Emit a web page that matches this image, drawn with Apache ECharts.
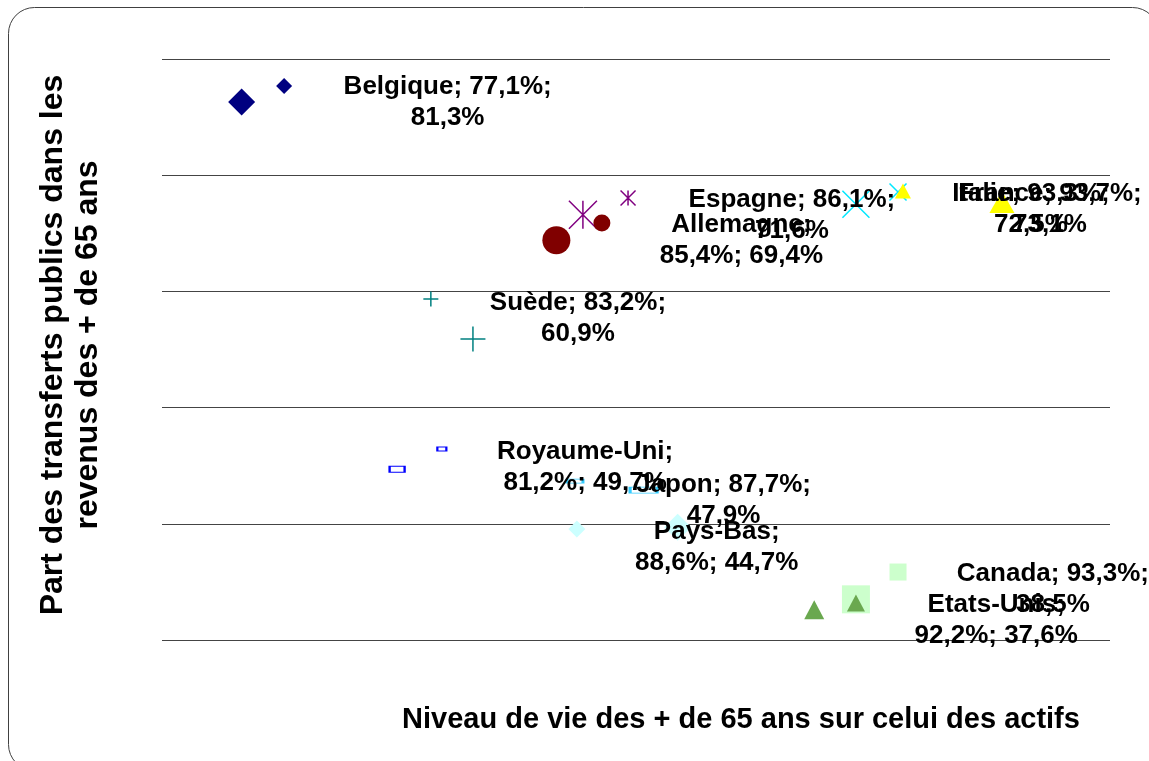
<!DOCTYPE html>
<html><head><meta charset="utf-8">
<script src="https://cdn.jsdelivr.net/npm/echarts@6/dist/echarts.min.js"></script>
<style>html,body{margin:0;padding:0;background:#fff}#chart{width:1149px;height:761px}</style>
</head><body><div id="chart"></div>
<script>
// ---- data ----
const countries = ['Belgique','Espagne','Allemagne','Italie','France','Suède','Royaume-Uni','Japon','Pays-Bas','Canada','Etats-Unis'];
// values shown in the data labels (niveau de vie %, part des transferts %)
const xValues = [77.1, 86.1, 85.4, 93.3, 93.7, 83.2, 81.2, 87.7, 88.6, 93.3, 92.2];
const yValues = [81.3, 71.6, 69.4, 72.5, 73.1, 60.9, 49.7, 47.9, 44.7, 38.5, 37.6];
// large markers as they appear in the picture
const markerX = [77.1, 86.1, 85.4, 93.3, 97.15, 83.2, 81.2, 87.7, 88.6, 93.3, 92.2];
const markerY = [81.3, 71.6, 69.4, 72.5, 72.7, 60.9, 49.7, 47.9, 44.7, 38.5, 37.6];
// small duplicate markers (label legend keys) as they appear in the picture
const keyX = [78.22, 87.29, 86.60, 94.41, 94.54, 82.09, 82.38, 85.89, 85.94, 94.41, 93.30];
const keyY = [82.68, 73.04, 70.89, 73.55, 73.64, 64.35, 51.44, 48.68, 44.55, 40.85, 38.18];
const xAxisRange = [75, 100];
const yAxisRange = [35, 85];
const yStep = 10;
const xTitle = 'Niveau de vie des + de 65 ans sur celui des actifs';
const yTitle = 'Part des transferts publics dans les\nrevenus des + de 65 ans';

// ---- styles ----
const ASTER = 'path://M0,0L20,20M20,0L0,20M10,0L10,20';
const XMARK = 'path://M0,0L20,20M20,0L0,20';
const PLUS = 'path://M10,0L10,20M0,10L20,10';
const symbols = ['diamond', ASTER, 'circle', XMARK, 'triangle', PLUS, 'rect', 'rect', 'diamond', 'rect', 'triangle'];
const colors = ['#000080','#800080','#800000','#00E8FF','#FFFF00','#008080','#0000FF','#33CCFF','#CCFFFF','#CCFFCC','#6AA84F'];
const strokeOnly = [false, true, false, true, false, true, true, true, false, false, false];
const bigSizes = [27, 28, 28, 27, [25,22], 25, [15,6], [27,6], 27, 28, [20,19]];
const smallSizes = [16, 15, 17, 17, [16,15], 15, [9,4], [16,4], 17, 17, [18,17]];
const breakAfterName = [false, false, true, false, false, false, true, false, true, false, true];
const labelOffsets = [[206,0],[209,1],[185,0],[175,5],[48,7],[105,-21],[188,-2],[80,10],[39,20],[197,-10],[182,11]];

const fmt = v => v.toFixed(1).replace('.', ',') + '%';
function labelText(i) {
  const n = countries[i], a = fmt(xValues[i]), b = fmt(yValues[i]);
  return breakAfterName[i] ? `${n};\n${a}; ${b}` : `${n}; ${a};\n${b}`;
}
function itemStyle(i) {
  if (strokeOnly[i]) {
    return { color: symbols[i] === 'rect' ? '#ffffff' : colors[i], borderColor: colors[i], borderWidth: 1.5, opacity: 1 };
  }
  return { color: colors[i], borderWidth: 0, opacity: 1 };
}
function makeData(xs, ys, sizes) {
  return countries.map((c, i) => ({
    name: c, value: [xs[i], ys[i]], symbol: symbols[i], symbolSize: sizes[i], itemStyle: itemStyle(i)
  }));
}

const chart = echarts.init(document.getElementById('chart'));
chart.setOption({
  backgroundColor: '#ffffff',
  animation: false,
  grid: { left: 162, right: 39, top: 59, bottom: 121 },
  xAxis: {
    type: 'value', min: xAxisRange[0], max: xAxisRange[1],
    axisLine: { show: false }, axisTick: { show: false }, axisLabel: { show: false }, splitLine: { show: false }
  },
  yAxis: {
    type: 'value', min: yAxisRange[0], max: yAxisRange[1], interval: yStep,
    axisLine: { show: false }, axisTick: { show: false }, axisLabel: { show: false },
    splitLine: { show: true, lineStyle: { color: '#444', width: 1 } }
  },
  graphic: [
    { type: 'rect', shape: { x: 8.5, y: 7.5, width: 1150, height: 763, r: 26 }, style: { fill: 'none', stroke: '#404040', lineWidth: 1 }, z: 0 },
    { type: 'text', x: 741, y: 720, style: { text: xTitle, font: 'bold 29px "Liberation Sans", Arial, sans-serif', fill: '#000', textAlign: 'center', textVerticalAlign: 'middle' } },
    { type: 'text', x: 71, y: 345, rotation: Math.PI / 2, style: { text: yTitle, font: 'bold 32px "Liberation Sans", Arial, sans-serif', lineHeight: 35, fill: '#000', textAlign: 'center', textVerticalAlign: 'middle' } }
  ],
  series: [
    { name: 'points', type: 'scatter', z: 2, data: makeData(markerX, markerY, bigSizes), itemStyle: { opacity: 1 }, emphasis: { disabled: true } },
    { name: 'keys', type: 'scatter', z: 3, data: makeData(keyX, keyY, smallSizes), itemStyle: { opacity: 1 }, emphasis: { disabled: true } },
    {
      name: 'labels', type: 'scatter', z: 5, symbolSize: 1, itemStyle: { color: 'rgba(0,0,0,0)', opacity: 1 },
      emphasis: { disabled: true },
      data: countries.map((c, i) => ({ name: c, value: [markerX[i], markerY[i]] })),
      label: {
        show: true, position: 'inside', color: '#000', opacity: 1,
        formatter: p => labelText(p.dataIndex),
        fontFamily: '"Liberation Sans", Arial, sans-serif', fontWeight: 'bold',
        fontSize: 26, lineHeight: 31, align: 'center', verticalAlign: 'middle'
      },
      labelLayout: p => ({ dx: labelOffsets[p.dataIndex][0], dy: labelOffsets[p.dataIndex][1], hideOverlap: false })
    }
  ]
});
</script></body></html>
